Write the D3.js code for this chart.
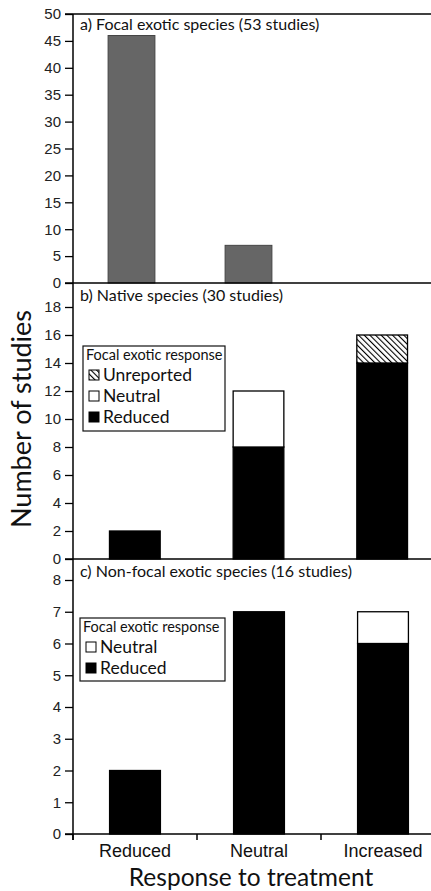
<!DOCTYPE html>
<html>
<head>
<meta charset="utf-8">
<script src="https://cdn.jsdelivr.net/npm/d3@7"></script>
<style>
body { margin: 0; background: #fff; }
svg { display: block; font-family: Lato, "Open Sans", sans-serif; }
</style>
</head>
<body>
<svg width="431" height="891"></svg>
<script>
// categories along x (response of the group to treatment)
var categories = ["Reduced", "Neutral", "Increased"];

// a) focal exotic species
var focalCounts = [46, 7, 0];
var focalTicks = [0, 5, 10, 15, 20, 25, 30, 35, 40, 45, 50];

// b) native species, split by focal exotic response
var nativeReduced = [2, 8, 14];
var nativeNeutral = [0, 4, 0];
var nativeUnreported = [0, 0, 2];
var nativeTicks = [0, 2, 4, 6, 8, 10, 12, 14, 16, 18];

// c) non-focal exotic species
var nonFocalReduced = [2, 7, 6];
var nonFocalNeutral = [0, 0, 1];
var nonFocalTicks = [0, 1, 2, 3, 4, 5, 6, 7, 8];

var svg = d3.select("svg");
var axisX = 73;

// hatch pattern for "Unreported"
var defs = svg.append("defs");
var pat = defs.append("pattern")
  .attr("id", "hatch")
  .attr("patternUnits", "userSpaceOnUse")
  .attr("width", 4).attr("height", 4)
  .attr("patternTransform", "rotate(-45)");
pat.append("rect").attr("width", 4).attr("height", 4).attr("fill", "#fff");
pat.append("line").attr("x1", 0).attr("y1", 0).attr("x2", 0).attr("y2", 4)
  .attr("stroke", "#000").attr("stroke-width", 2.2);

function yAxis(g, y, ticks) {
  g.attr("transform", "translate(" + axisX + ",0)")
    .call(d3.axisLeft(y).tickValues(ticks).tickSize(8).tickPadding(4).tickSizeOuter(0));
  g.select(".domain").remove();
  g.selectAll("line").attr("stroke", "#000").attr("stroke-width", 1.3);
  g.selectAll("text").attr("font-size", 15).attr("fill", "#222");
}

function baseLine(y0) {
  svg.append("line")
    .attr("x1", axisX - 8).attr("x2", 431)
    .attr("y1", y0).attr("y2", y0)
    .attr("stroke", "#000").attr("stroke-width", 1.5);
}

function panelTitle(txt, yy) {
  svg.append("text").attr("x", 80).attr("y", yy)
    .attr("font-size", 16).attr("fill", "#111").text(txt);
}

// ---------- panel a ----------
var xa = d3.scaleBand().domain(categories).range([axisX, 424])
  .paddingInner(0.6).paddingOuter(0.3);
var ya = d3.scaleLinear().domain([0, 50]).range([283, 14]);

svg.append("g").call(yAxis, ya, focalTicks);
svg.append("line").attr("x1", axisX - 8).attr("x2", 431)
  .attr("y1", ya(50)).attr("y2", ya(50)).attr("stroke", "#000").attr("stroke-width", 1.5);

svg.append("g").selectAll("rect")
  .data(focalCounts.map(function(v, i) { return { c: categories[i], v: v }; }).filter(function(d) { return d.v > 0; }))
  .enter().append("rect")
  .attr("x", function(d) { return xa(d.c); })
  .attr("width", xa.bandwidth())
  .attr("y", function(d) { return ya(d.v); })
  .attr("height", function(d) { return ya(0) - ya(d.v); })
  .attr("fill", "#666")
  .attr("stroke", "#444").attr("stroke-width", 1);

panelTitle("a) Focal exotic species (53 studies)", 30);

// ---------- stacked panels ----------
function stackedPanel(rows, keys, fills, x, y, ticks) {
  var stack = d3.stack().keys(keys)(rows);
  svg.append("g").call(yAxis, y, ticks);
  var g = svg.append("g");
  stack.forEach(function(layer, k) {
    g.selectAll(null)
      .data(layer.filter(function(d) { return d[1] > d[0]; }))
      .enter().append("rect")
      .attr("x", function(d) { return x(d.data.cat); })
      .attr("width", x.bandwidth())
      .attr("y", function(d) { return y(d[1]); })
      .attr("height", function(d) { return y(d[0]) - y(d[1]); })
      .attr("fill", fills[k])
      .attr("stroke", "#000").attr("stroke-width", 1.3);
  });
}

function legend(x0, y0, w, h, items, fills) {
  var g = svg.append("g").attr("transform", "translate(" + x0 + "," + y0 + ")");
  g.append("rect").attr("width", w).attr("height", h)
    .attr("fill", "#fff").attr("stroke", "#111").attr("stroke-width", 1.2);
  g.append("text").attr("x", 3).attr("y", 14).attr("font-size", 14.5)
    .attr("fill", "#111").text("Focal exotic response");
  items.forEach(function(name, i) {
    var yy = 35 + i * 21;
    g.append("rect").attr("x", 6).attr("y", yy - 11).attr("width", 10).attr("height", 10)
      .attr("fill", fills[i]).attr("stroke", "#000").attr("stroke-width", 1);
    g.append("text").attr("x", 20).attr("y", yy).attr("font-size", 17.5)
      .attr("fill", "#111").text(name);
  });
}

// panel b
var xb = d3.scaleBand().domain(categories).range([axisX, 444])
  .paddingInner(0.59).paddingOuter(0.295);
var yb = d3.scaleLinear().domain([0, 20]).range([559, 279]);
var nativeRows = categories.map(function(c, i) {
  return { cat: c, reduced: nativeReduced[i], neutral: nativeNeutral[i], unreported: nativeUnreported[i] };
});
stackedPanel(nativeRows, ["reduced", "neutral", "unreported"], ["#000", "#fff", "url(#hatch)"], xb, yb, nativeTicks);
baseLine(283);
panelTitle("b) Native species (30 studies)", 301);
legend(83, 346, 142, 85, ["Unreported", "Neutral", "Reduced"], ["url(#hatch)", "#fff", "#000"]);

// panel c
var xc = d3.scaleBand().domain(categories).range([axisX, 445])
  .paddingInner(0.59).paddingOuter(0.295);
var yc = d3.scaleLinear().domain([0, 8]).range([834, 580]);
var nonFocalRows = categories.map(function(c, i) {
  return { cat: c, reduced: nonFocalReduced[i], neutral: nonFocalNeutral[i] };
});
stackedPanel(nonFocalRows, ["reduced", "neutral"], ["#000", "#fff"], xc, yc, nonFocalTicks);
baseLine(559);
panelTitle("c) Non-focal exotic species (16 studies)", 577);
legend(80, 618, 145, 63, ["Neutral", "Reduced"], ["#fff", "#000"]);
baseLine(834);

// x axis of panel c
var xAxisG = svg.append("g").attr("transform", "translate(0,834)")
  .call(d3.axisBottom(xc).tickSize(0).tickPadding(10));
xAxisG.select(".domain").remove();
xAxisG.selectAll("text").attr("font-size", 18).attr("fill", "#111");
svg.append("g").selectAll("line")
  .data([axisX].concat(categories.slice(1).map(function(c) { return xc(c) - xc.step() * xc.paddingInner() / 2; })))
  .enter().append("line")
  .attr("x1", function(d) { return d; }).attr("x2", function(d) { return d; })
  .attr("y1", 834).attr("y2", 840)
  .attr("stroke", "#000").attr("stroke-width", 1.5);

// continuous left axis line
svg.append("line").attr("x1", axisX).attr("x2", axisX)
  .attr("y1", 14).attr("y2", 840).attr("stroke", "#000").attr("stroke-width", 1.5);

// axis titles
svg.append("text").attr("transform", "translate(31,419) rotate(-90)")
  .attr("text-anchor", "middle").attr("font-size", 27).attr("fill", "#111")
  .text("Number of studies");
svg.append("text").attr("x", 251).attr("y", 886)
  .attr("text-anchor", "middle").attr("font-size", 24.5).attr("fill", "#111")
  .text("Response to treatment");
</script>
</body>
</html>
